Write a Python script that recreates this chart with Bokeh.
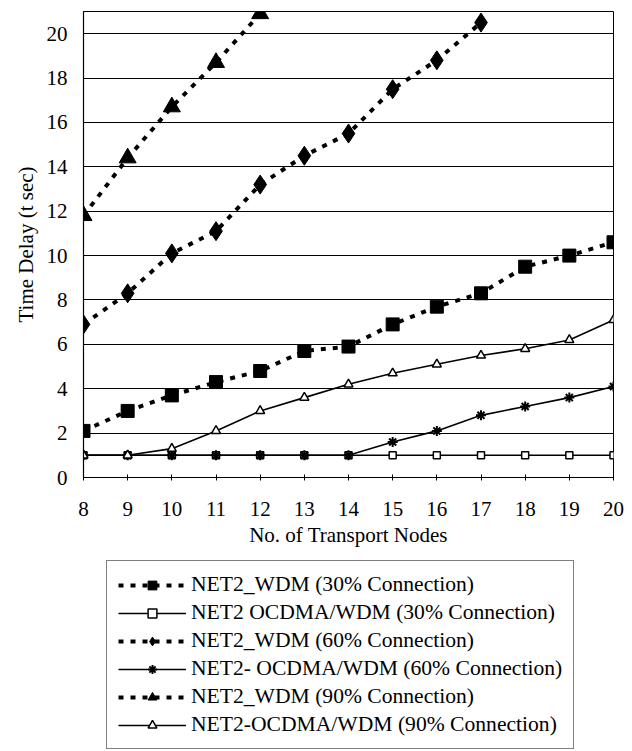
from bokeh.plotting import figure
from bokeh.models import Legend, LegendItem, FixedTicker, Range1d
from bokeh.layouts import column
from bokeh.embed import file_html
from bokeh.resources import INLINE

nodes = [8, 9, 10, 11, 12, 13, 14, 15, 16, 17, 18, 19, 20]
wdm30 = [2.1, 3.0, 3.7, 4.3, 4.8, 5.7, 5.9, 6.9, 7.7, 8.3, 9.5, 10.0, 10.6]
ocdma30 = [1.0, 1.0, 1.0, 1.0, 1.0, 1.0, 1.0, 1.0, 1.0, 1.0, 1.0, 1.0, 1.0]
nodes60 = [8, 9, 10, 11, 12, 13, 14, 15, 16, 17]
wdm60 = [6.9, 8.3, 10.1, 11.1, 13.2, 14.5, 15.5, 17.5, 18.8, 20.5]
ocdma60 = [1.0, 1.0, 1.0, 1.0, 1.0, 1.0, 1.0, 1.6, 2.1, 2.8, 3.2, 3.6, 4.1]
nodes90 = [8, 9, 10, 11, 12]
wdm90 = [11.8, 14.4, 16.7, 18.7, 20.9]
ocdma90 = [1.0, 1.0, 1.3, 2.1, 3.0, 3.6, 4.2, 4.7, 5.1, 5.5, 5.8, 6.2, 7.1]

y_ticks = [0, 2, 4, 6, 8, 10, 12, 14, 16, 18, 20]
labels = [
    "NET2_WDM (30% Connection)",
    "NET2 OCDMA/WDM (30% Connection)",
    "NET2_WDM (60% Connection)",
    "NET2- OCDMA/WDM (60% Connection)",
    "NET2_WDM (90% Connection)",
    "NET2-OCDMA/WDM (90% Connection)",
]

FONT = "Liberation Serif"
DASH = "5 7"

# series styles: (line kwargs, marker kwargs, legend marker size)
styles = [
    (dict(line_width=4, line_dash=DASH),
     dict(marker="square", size=13, fill_color="black", line_color="black"), 9),
    (dict(line_width=1.6),
     dict(marker="square", size=7, fill_color="white", line_color="black", line_width=1.5), 6),
    (dict(line_width=4, line_dash=DASH),
     dict(marker="diamond", size=19, fill_color="black", line_color="black"), 13),
    (dict(line_width=1.6),
     dict(marker="asterisk", size=10, line_color="black", line_width=2), 8),
    (dict(line_width=4, line_dash=DASH),
     dict(marker="triangle", size=17, fill_color="black", line_color="black"), 11),
    (dict(line_width=1.6),
     dict(marker="triangle", size=9, fill_color="white", line_color="black", line_width=1.5), 7),
]
series = [
    (nodes, wdm30), (nodes, ocdma30), (nodes60, wdm60),
    (nodes, ocdma60), (nodes90, wdm90), (nodes, ocdma90),
]

p = figure(width=632, height=553, output_backend="svg", toolbar_location=None,
           x_range=Range1d(8, 20), y_range=Range1d(0, 21),
           frame_width=530, frame_height=466,
           min_border_left=83, min_border_right=19, min_border_top=11,
           min_border_bottom=76)
p.background_fill_color = "white"
p.border_fill_color = "white"
p.outline_line_color = "black"
p.outline_line_width = 1

p.xgrid.visible = False
p.ygrid.ticker = FixedTicker(ticks=y_ticks)
p.ygrid.grid_line_color = "black"
p.ygrid.grid_line_width = 1

p.xaxis.ticker = FixedTicker(ticks=nodes)
p.yaxis.ticker = FixedTicker(ticks=y_ticks)
for ax in (p.xaxis, p.yaxis):
    ax.axis_line_color = "black"
    ax.axis_line_width = 1.2
    ax.major_label_text_font = FONT
    ax.major_label_text_font_size = "21px"
    ax.major_label_text_color = "black"
    ax.axis_label_text_font = FONT
    ax.axis_label_text_font_size = "21px"
    ax.axis_label_text_font_style = "normal"
    ax.axis_label_text_color = "black"
    ax.minor_tick_line_color = None
p.xaxis.major_tick_in = 3
p.xaxis.major_tick_out = 3
p.xaxis.major_tick_line_color = "black"
p.xaxis.major_label_standoff = 21
p.xaxis.axis_label = "No. of Transport Nodes"
p.xaxis.axis_label_standoff = 4
p.yaxis.major_tick_in = 0
p.yaxis.major_tick_out = 0
p.yaxis.major_label_standoff = 16
p.yaxis.axis_label = "Time Delay (t sec)"
p.yaxis.axis_label_standoff = 6

for (xs, ys), (lk, mk, _) in zip(series, styles):
    p.line(xs, ys, line_color="black", **lk)
    p.scatter(xs, ys, **mk)

# legend panel below the chart (proxy renderers sit outside the visible range)
p2 = figure(width=632, height=198, output_backend="svg", toolbar_location=None,
            x_range=Range1d(0, 1), y_range=Range1d(0, 1),
            x_axis_type=None, y_axis_type=None,
            min_border_left=0, min_border_right=0, min_border_top=0,
            min_border_bottom=0)
p2.outline_line_color = None
p2.xgrid.visible = False
p2.ygrid.visible = False
p2.background_fill_color = "white"
p2.border_fill_color = "white"

items = []
for lab, (lk, mk, lsize) in zip(labels, styles):
    rl = p2.line([-5, -4], [-5, -4], line_color="black", **lk)
    mk2 = dict(mk)
    mk2["size"] = lsize
    rm = p2.scatter([-5], [-5], **mk2)
    items.append(LegendItem(label=lab, renderers=[rl, rm]))

legend = Legend(items=items, location=(23, 2), orientation="vertical",
                label_text_font=FONT, label_text_font_size="21.6px",
                label_text_color="black",
                glyph_width=68, glyph_height=22, label_height=22,
                label_standoff=5, spacing=3, padding=11, margin=0,
                border_line_color="black", border_line_width=1.5,
                background_fill_color="white", background_fill_alpha=1)
p2.add_layout(legend, "center")

layout = column(p, p2, spacing=0)
open("out.html", "w").write(file_html(layout, INLINE))
